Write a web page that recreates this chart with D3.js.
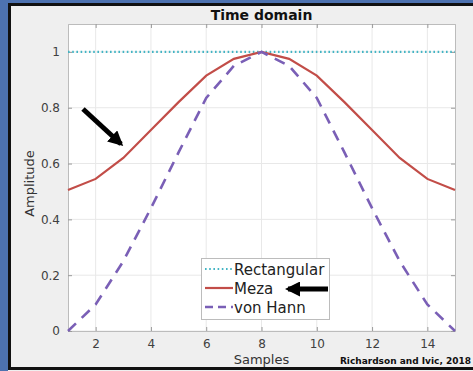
<!DOCTYPE html>
<html><head><meta charset="utf-8">
<script src="https://cdn.jsdelivr.net/npm/d3@7"></script>
<style>
html,body{margin:0;padding:0;background:#efefef;}
svg{display:block;font-family:"DejaVu Sans",sans-serif;}
</style></head>
<body>
<svg id="c" width="473" height="371"></svg>
<script>
const samples = [1,2,3,4,5,6,7,8,9,10,11,12,13,14,15];
const rectangular = [1,1,1,1,1,1,1,1,1,1,1,1,1,1,1];
const meza = [0.505,0.545,0.62,0.72,0.82,0.915,0.975,1,0.975,0.915,0.82,0.72,0.62,0.545,0.505];
const vonHann = [0,0.095,0.25,0.44,0.64,0.835,0.95,1,0.95,0.835,0.64,0.44,0.25,0.095,0];
const xTicks = [2,4,6,8,10,12,14];
const yTicks = [0,0.2,0.4,0.6,0.8,1];
const legendLabels = ["Rectangular","Meza","von Hann"];

const svg = d3.select("#c");
// frame
svg.append("rect").attr("x",0).attr("y",0).attr("width",473).attr("height",371).attr("fill","#efefef");
svg.append("rect").attr("x",0).attr("y",0).attr("width",8).attr("height",371).attr("fill","#4d72b0");
svg.append("rect").attr("x",0).attr("y",0).attr("width",473).attr("height",3).attr("fill","#4d72b0");
svg.append("rect").attr("x",9.5).attr("y",4.5).attr("width",470).attr("height",364).attr("fill","none").attr("stroke","#111").attr("stroke-width",3);

const L=68,R=455,T=24,B=331;
const x = d3.scaleLinear().domain([1,15]).range([L,R]);
const y = d3.scaleLinear().domain([0,1.1]).range([B,T]);

svg.append("rect").attr("x",L).attr("y",T).attr("width",R-L).attr("height",B-T).attr("fill","#fff");
// grid
const g = svg.append("g");
g.selectAll(".gx").data(xTicks).join("line").attr("x1",d=>x(d)).attr("x2",d=>x(d)).attr("y1",T).attr("y2",B).attr("stroke","#e8e8e8");
g.selectAll(".gy").data(yTicks).join("line").attr("y1",d=>y(d)).attr("y2",d=>y(d)).attr("x1",L).attr("x2",R).attr("stroke","#e8e8e8");

// axes
const axB = svg.append("g").attr("transform",`translate(0,${B})`).call(d3.axisBottom(x).tickValues(xTicks).tickSize(-4).tickPadding(8).tickFormat(d3.format("d")));
const axL = svg.append("g").attr("transform",`translate(${L},0)`).call(d3.axisLeft(y).tickValues(yTicks).tickSize(-4).tickPadding(8).tickFormat(d=>d===0?"0":d===1?"1":d3.format(".1f")(d)));
const axT = svg.append("g").attr("transform",`translate(0,${T})`).call(d3.axisTop(x).tickValues(xTicks).tickSize(-4).tickFormat(""));
const axR = svg.append("g").attr("transform",`translate(${R},0)`).call(d3.axisRight(y).tickValues(yTicks).tickSize(-4).tickFormat(""));
[axB,axL,axT,axR].forEach(a=>{
  a.select(".domain").attr("stroke","#bcbcbc");
  a.selectAll(".tick line").attr("stroke","#9a9a9a");
  a.selectAll("text").attr("fill","#404040").attr("font-size",12).attr("font-family","DejaVu Sans");
});

// lines
const line = vals => d3.line().x((d,i)=>x(samples[i])).y(d=>y(d))(vals);
svg.append("path").attr("d",line(rectangular)).attr("fill","none").attr("stroke","#42b4c4").attr("stroke-width",2.2).attr("stroke-dasharray","1.6,2.6");
svg.append("path").attr("d",line(meza)).attr("fill","none").attr("stroke","#c24d48").attr("stroke-width",2.2);
svg.append("path").attr("d",line(vonHann)).attr("fill","none").attr("stroke","#7a5fb6").attr("stroke-width",2.6).attr("stroke-dasharray","11,8");

// title, labels
svg.append("text").attr("x",(L+R)/2).attr("y",20).attr("text-anchor","middle").attr("font-weight","bold").attr("font-size",14).attr("fill","#111").text("Time domain");
svg.append("text").attr("transform",`translate(34,${(T+B)/2+6}) rotate(-90)`).attr("text-anchor","middle").attr("font-size",13).attr("fill","#333").text("Amplitude");
svg.append("text").attr("x",(L+R)/2).attr("y",364).attr("text-anchor","middle").attr("font-size",13).attr("fill","#333").text("Samples");
svg.append("text").attr("x",471).attr("y",364).attr("text-anchor","end").attr("font-size",9).attr("font-weight","bold").attr("fill","#111").text("Richardson and Ivic, 2018");

// legend
const lg = svg.append("g");
lg.append("rect").attr("x",201.5).attr("y",258.5).attr("width",128).attr("height",61).attr("fill","#fff").attr("stroke","#bcbcbc");
const styles = [
  {c:"#42b4c4",w:2.2,da:"1.6,2.6"},
  {c:"#c24d48",w:2.2,da:null},
  {c:"#7a5fb6",w:2.6,da:"8,5"}
];
legendLabels.forEach((lab,i)=>{
  const yy = 269 + i*19;
  lg.append("line").attr("x1",205).attr("x2",233).attr("y1",yy).attr("y2",yy).attr("stroke",styles[i].c).attr("stroke-width",styles[i].w).attr("stroke-dasharray",styles[i].da);
  lg.append("text").attr("x",234).attr("y",yy+5.5).attr("font-size",15).attr("fill","#222").text(lab);
});

// arrows
svg.append("defs").append("marker").attr("id","ah").attr("viewBox","0 0 10 10").attr("refX",8).attr("refY",5)
  .attr("markerWidth",3).attr("markerHeight",3).attr("orient","auto").attr("markerUnits","strokeWidth")
  .append("path").attr("d","M0,0 L10,5 L0,10 Z").attr("fill","#000");
svg.append("line").attr("x1",83).attr("y1",109).attr("x2",121).attr("y2",144).attr("stroke","#000").attr("stroke-width",5).attr("marker-end","url(#ah)");
svg.append("line").attr("x1",328).attr("y1",289).attr("x2",288).attr("y2",289).attr("stroke","#000").attr("stroke-width",5).attr("marker-end","url(#ah)");
</script>
</body></html>
